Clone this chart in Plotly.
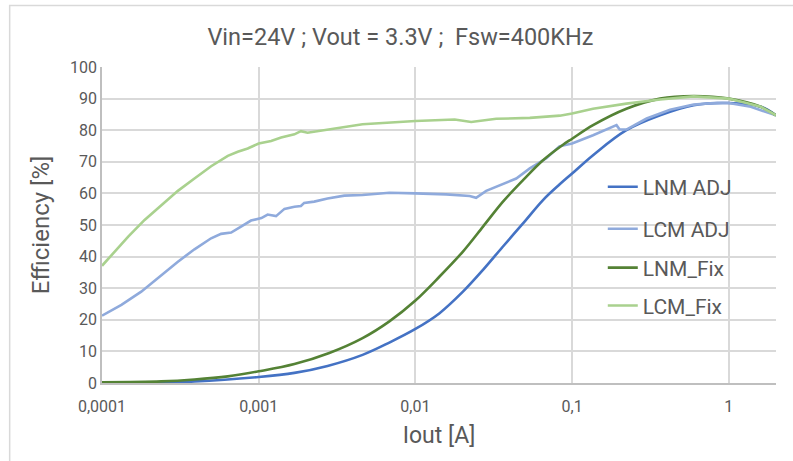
import plotly.graph_objects as go

# Efficiency vs output current
lnm_adj_iout = [0.0001, 0.00039, 0.001, 0.00169, 0.00275, 0.0046, 0.00682, 0.01, 0.01426,
                0.0201, 0.027, 0.0362, 0.0486, 0.0652, 0.083, 0.1, 0.136, 0.222, 0.364,
                0.596, 1.0, 1.6, 2.0]
lnm_adj_eff = [0.0, 0.5, 1.9, 3.2, 5.4, 8.9, 12.8, 17.1, 22.1,
               28.9, 35.8, 43.2, 50.5, 57.9, 62.8, 66.3, 72.1, 80.0, 84.7,
               87.9, 88.6, 87.4, 84.7]

lcm_adj_iout = [0.0001, 0.000133, 0.000178, 0.000239, 0.000305, 0.000389, 0.000497, 0.000575,
                0.000667, 0.000771, 0.000893, 0.00104, 0.00114, 0.00129, 0.00146, 0.00169,
                0.00186, 0.00195, 0.00226, 0.00275, 0.00352, 0.0046, 0.00682, 0.01, 0.0157,
                0.0222, 0.0244, 0.0283, 0.0362, 0.0399, 0.044, 0.0537, 0.0685, 0.083, 0.1,
                0.136, 0.192, 0.201, 0.222, 0.299, 0.422, 0.596, 0.841, 1.0, 1.38, 2.0]
lcm_adj_eff = [21.3, 24.7, 28.9, 34.2, 38.4, 42.3, 45.8, 47.2,
               47.6, 49.5, 51.4, 52.2, 53.3, 52.8, 55.1, 55.8,
               56.0, 57.0, 57.4, 58.4, 59.3, 59.5, 60.2, 60.0, 59.7,
               59.2, 58.6, 60.8, 62.9, 63.9, 64.7, 67.9, 71.1, 74.9, 75.8,
               78.4, 81.6, 80.2, 80.2, 83.7, 86.5, 88.1, 88.7, 88.6, 87.4, 84.7]

lnm_fix_iout = [0.0001, 0.000239, 0.000389, 0.000635, 0.001, 0.00169,
                0.00282, 0.0046, 0.00682, 0.01, 0.01426, 0.0201, 0.027, 0.0362, 0.0486,
                0.0652, 0.0875, 0.1, 0.136, 0.222, 0.364, 0.596, 1.0, 1.6, 2.0]
lnm_fix_eff = [0.2, 0.5, 1.1, 2.1, 3.7, 6.0,
               9.5, 14.2, 19.5, 26.1, 33.7, 41.6, 49.5, 57.4, 64.2,
               70.5, 75.4, 77.3, 81.6, 86.8, 90.0, 90.8, 90.0, 87.4, 84.7]

lcm_fix_iout = [0.0001, 0.000147, 0.000187, 0.000239, 0.000305, 0.000389, 0.000497, 0.000635,
                0.000735, 0.000851, 0.001, 0.0012, 0.00139, 0.00169, 0.00186, 0.00205,
                0.00275, 0.00352, 0.0046, 0.01, 0.0178, 0.0227, 0.0328, 0.0537, 0.0834,
                0.1, 0.136, 0.222, 0.364, 0.596, 1.0, 1.6, 2.0]
lcm_fix_eff = [37.1, 46.3, 51.6, 56.3, 60.8, 64.7, 68.6, 71.9,
               73.2, 74.2, 75.8, 76.6, 77.7, 78.7, 79.7, 79.2,
               80.2, 81.1, 81.9, 82.9, 83.4, 82.6, 83.6, 83.9, 84.6,
               85.3, 86.8, 88.4, 89.7, 90.7, 90.0, 87.4, 84.7]

x_tickvals = [0.0001, 0.001, 0.01, 0.1, 1]
x_ticktext = ['0,0001', '0,001', '0,01', '0,1', '1']

FONT = 'Roboto, sans-serif'
TEXT = '#595959'
GRID = '#D9D9D9'

fig = go.Figure()

# name, x, y, colour, line shape, legend id, legend y (paper)
series = [
    ('LNM ADJ', lnm_adj_iout, lnm_adj_eff, '#4472C4', 'spline', 'legend', 0.62),
    ('LCM ADJ', lcm_adj_iout, lcm_adj_eff, '#8FAADC', 'linear', 'legend2', 0.487),
    ('LNM_Fix', lnm_fix_iout, lnm_fix_eff, '#548235', 'spline', 'legend3', 0.364),
    ('LCM_Fix', lcm_fix_iout, lcm_fix_eff, '#A9D18E', 'linear', 'legend4', 0.244),
]
legends = {}
for name, x, y, color, shape, leg, ly in series:
    fig.add_trace(go.Scatter(
        x=x, y=y, mode='lines', name=name, legend=leg, showlegend=True,
        line=dict(color=color, width=2.6, shape=shape),
    ))
    legends[leg] = dict(
        x=0.743, y=ly, xanchor='left', yanchor='middle',
        bgcolor='rgba(0,0,0,0)', font=dict(size=21, color=TEXT),
        itemwidth=30,
    )

fig.update_layout(
    width=793, height=461,
    showlegend=True,
    paper_bgcolor='white',
    plot_bgcolor='white',
    font=dict(family=FONT, color=TEXT, size=16),
    title=dict(text='Vin=24V ; Vout = 3.3V ;  Fsw=400KHz', x=0.505, xanchor='center',
               y=0.92, yref='container', yanchor='middle', font=dict(size=23.5, color=TEXT)),
    margin=dict(l=102, r=17, t=67, b=78),
    xaxis=dict(
        type='log', range=[-4, 0.301],
        tickvals=x_tickvals, ticktext=x_ticktext,
        showgrid=True, gridcolor=GRID, gridwidth=1.5,
        showline=True, linecolor='#BFBFBF', linewidth=1.5,
        zeroline=False, ticks='', ticklen=0, ticklabelstandoff=8,
        title=dict(text='Iout [A]', font=dict(size=23), standoff=12),
    ),
    yaxis=dict(
        range=[0, 100], dtick=10,
        showgrid=True, gridcolor=GRID, gridwidth=1.5,
        showline=True, linecolor='#BFBFBF', linewidth=1.5,
        zeroline=False, ticks='',
        title=dict(text='Efficiency [%]', font=dict(size=24), standoff=14),
    ),
    shapes=[dict(type='rect', xref='paper', yref='paper',
                 x0=-0.137, x1=1.2, y0=-0.4, y1=1.195,
                 line=dict(color='#D9D9D9', width=1.5), fillcolor='rgba(0,0,0,0)',
                 layer='below')],
    **legends,
)

fig.write_html('out.html', config={'displayModeBar': False},
               post_script="document.body.style.margin='0';")
